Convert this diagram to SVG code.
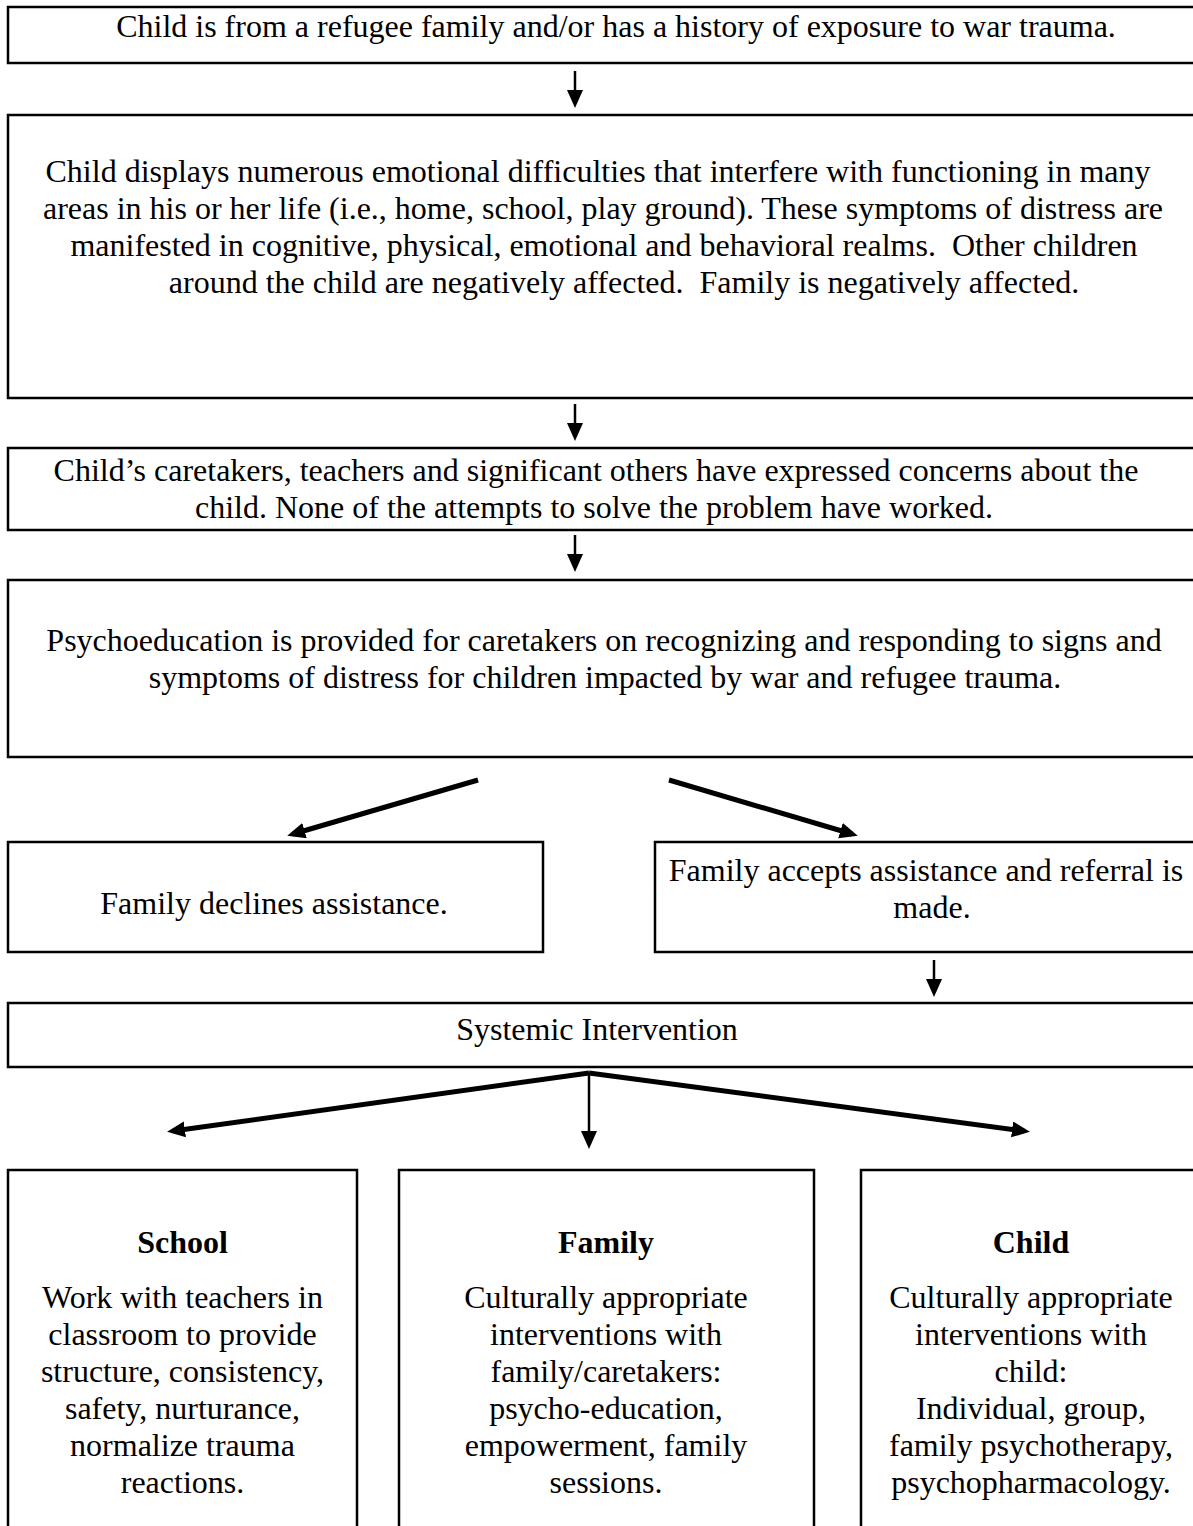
<svg xmlns="http://www.w3.org/2000/svg" width="1193" height="1526" viewBox="0 0 1193 1526">
<style>
.box{fill:#fff;stroke:#000;stroke-width:2.5}
text{font-family:"Liberation Serif","Times New Roman",serif;font-size:32px;fill:#000;text-anchor:middle}
.b{font-weight:bold}
.thin{stroke:#000;stroke-width:2.5;fill:none}
.thick{stroke:#000;stroke-width:5;fill:none}
</style>
<defs>
<marker id="ah" markerUnits="userSpaceOnUse" markerWidth="20" markerHeight="18" refX="12" refY="8" orient="auto">
<path d="M0,0 L18,8 L0,16 Z" fill="#000"/>
</marker>
</defs>
<rect width="1193" height="1526" fill="#fff"/>
<g id="n1"><rect class="box" x="8" y="7" width="1200" height="56"/>
<text x="616" y="37">Child is from a refugee family and/or has a history of exposure to war trauma.</text></g>
<g id="n2"><rect class="box" x="8" y="115" width="1200" height="283"/>
<text x="598" y="182">Child displays numerous emotional difficulties that interfere with functioning in many</text>
<text x="603" y="219">areas in his or her life (i.e., home, school, play ground). These symptoms of distress are</text>
<text x="604" y="256" xml:space="preserve">manifested in cognitive, physical, emotional and behavioral realms.  Other children</text>
<text x="624" y="293" xml:space="preserve">around the child are negatively affected.  Family is negatively affected.</text></g>
<g id="n3"><rect class="box" x="8" y="448" width="1200" height="82"/>
<text x="596" y="481">Child’s caretakers, teachers and significant others have expressed concerns about the</text>
<text x="594" y="518">child. None of the attempts to solve the problem have worked.</text></g>
<g id="n4"><rect class="box" x="8" y="580" width="1200" height="177"/>
<text x="604" y="651">Psychoeducation is provided for caretakers on recognizing and responding to signs and</text>
<text x="605" y="688">symptoms of distress for children impacted by war and refugee trauma.</text></g>
<g id="n5"><rect class="box" x="8" y="842" width="535" height="110"/>
<text x="274" y="914">Family declines assistance.</text></g>
<g id="n6"><rect class="box" x="655" y="842" width="553" height="110"/>
<text x="926" y="881">Family accepts assistance and referral is</text>
<text x="932" y="918">made.</text></g>
<g id="n7"><rect class="box" x="8" y="1003" width="1200" height="64"/>
<text x="597" y="1040">Systemic Intervention</text></g>
<g id="n8"><rect class="box" x="8" y="1170" width="349" height="370"/>
<text class="b" x="182.5" y="1253">School</text>
<text x="182.5" y="1308">Work with teachers in</text>
<text x="182.5" y="1345">classroom to provide</text>
<text x="182.5" y="1382">structure, consistency,</text>
<text x="182.5" y="1419">safety, nurturance,</text>
<text x="182.5" y="1456">normalize trauma</text>
<text x="182.5" y="1493">reactions.</text></g>
<g id="n9"><rect class="box" x="399" y="1170" width="415" height="370"/>
<text class="b" x="606" y="1253">Family</text>
<text x="606" y="1308">Culturally appropriate</text>
<text x="606" y="1345">interventions with</text>
<text x="606" y="1382">family/caretakers:</text>
<text x="606" y="1419">psycho-education,</text>
<text x="606" y="1456">empowerment, family</text>
<text x="606" y="1493">sessions.</text></g>
<g id="n10"><rect class="box" x="861" y="1170" width="347" height="370"/>
<text class="b" x="1031" y="1253">Child</text>
<text x="1031" y="1308">Culturally appropriate</text>
<text x="1031" y="1345">interventions with</text>
<text x="1031" y="1382">child:</text>
<text x="1031" y="1419">Individual, group,</text>
<text x="1031" y="1456">family psychotherapy,</text>
<text x="1031" y="1493">psychopharmacology.</text></g>
<g id="connectors">
<line class="thin" x1="575" y1="71" x2="575" y2="102" marker-end="url(#ah)"/>
<line class="thin" x1="575" y1="404" x2="575" y2="435" marker-end="url(#ah)"/>
<line class="thin" x1="575" y1="535" x2="575" y2="566" marker-end="url(#ah)"/>
<line class="thick" x1="478" y1="780" x2="293" y2="834" marker-end="url(#ah)"/>
<line class="thick" x1="669" y1="780" x2="852" y2="834" marker-end="url(#ah)"/>
<line class="thin" x1="934" y1="960" x2="934" y2="991" marker-end="url(#ah)"/>
<line class="thick" x1="589" y1="1073" x2="173" y2="1131" marker-end="url(#ah)"/>
<line class="thin" x1="589" y1="1073" x2="589" y2="1143" marker-end="url(#ah)"/>
<line class="thick" x1="589" y1="1073" x2="1024" y2="1131" marker-end="url(#ah)"/>
</g>
</svg>
